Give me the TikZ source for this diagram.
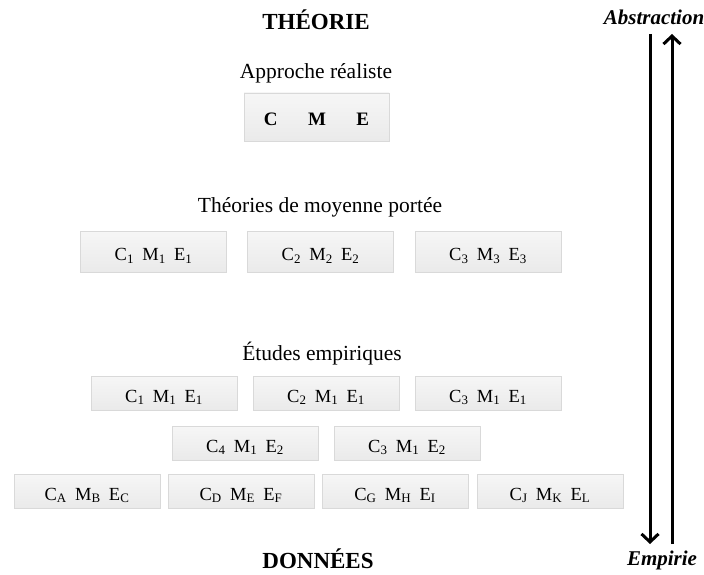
\documentclass[tikz,border=0pt]{standalone}
\usepackage{fontspec}
\setmainfont{Liberation Serif}
\usepackage{xcolor}
\usetikzlibrary{positioning, arrows.meta}
\definecolor{boxline}{HTML}{D9D9D9}
\definecolor{boxtop}{HTML}{F6F6F6}
\definecolor{boxbot}{HTML}{EAEAEA}
\newcommand{\cme}[3]{C\textsubscript{#1}\hspace{0.45em}M\textsubscript{#2}\hspace{0.45em}E\textsubscript{#3}}

\begin{document}
\begin{tikzpicture}[x=1pt, y=-1pt, >={Straight Barb[length=8pt, width=17pt]},
  cbox/.style={draw=boxline, top color=boxtop, bottom color=boxbot, minimum width=146pt, inner sep=0pt, text height=22pt, text depth=4pt, font=\fontsize{18.5}{21}\selectfont},
  tbox/.style={cbox, minimum height=41pt},
  ebox/.style={cbox, minimum height=34pt},
  head/.style={font=\fontsize{21.5}{24}\selectfont},
  title/.style={font=\fontsize{23}{26}\selectfont\bfseries},
  side/.style={font=\fontsize{21}{24}\selectfont\bfseries\itshape}]
\useasboundingbox (0,0) rectangle (704,575);
% titles
\node[title] (theorie) at (316,20) {THÉORIE};
\node[title] (donnees) at (318,559) {DONNÉES};
\node[side] (abstr) at (654,17) {Abstraction};
\node[side] (empir) at (662,560) {Empirie};
% realist approach
\node[head] (real) at (316,73) {Approche réaliste};
\node[cbox, minimum width=145pt, minimum height=48pt, text height=19.6pt, text depth=2pt, font=\fontsize{19}{22}\selectfont\bfseries] (cme) at (316.5,117) {C\hspace{1.6em}M\hspace{1.6em}E};
% middle range theories
\node[head] (moy) at (320,207) {Théories de moyenne portée};
\node[tbox] (t1) at (153.5,251.5) {\cme{1}{1}{1}};
\node[tbox] (t2) at (320.5,251.5) {\cme{2}{2}{2}};
\node[tbox] (t3) at (488,251.5) {\cme{3}{3}{3}};
% empirical studies
\node[head] (emp) at (322,354) {Études empiriques};
\node[ebox] (e1) at (164,393) {\cme{1}{1}{1}};
\node[ebox] (e2) at (326,393) {\cme{2}{1}{1}};
\node[ebox] (e3) at (488,393) {\cme{3}{1}{1}};
\node[ebox] (e4) at (245,443) {\cme{4}{1}{2}};
\node[ebox] (e5) at (407,443) {\cme{3}{1}{2}};
\node[ebox] (e6) at (87,491) {\cme{A}{B}{C}};
\node[ebox] (e7) at (241,491) {\cme{D}{E}{F}};
\node[ebox] (e8) at (395,491) {\cme{G}{H}{I}};
\node[ebox] (e9) at (550,491) {\cme{J}{K}{L}};
% arrows
\coordinate (dtop) at (650,34);
\coordinate (dbot) at (650,544);
\coordinate (utop) at (672,34);
\coordinate (ubot) at (672,544);
\draw[->, line width=3pt] (dtop) -- (dbot);
\draw[->, line width=3pt] (ubot) -- (utop);
\end{tikzpicture}
\end{document}
